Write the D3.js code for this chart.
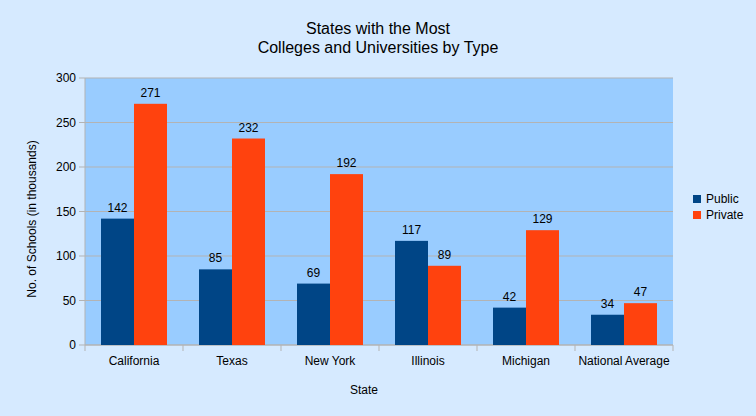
<!DOCTYPE html>
<html><head><meta charset="utf-8">
<script src="https://cdn.jsdelivr.net/npm/d3@7"></script>
<style>body{margin:0;background:#d6eaff;}svg{display:block;font-family:"Liberation Sans",Arial,sans-serif;}</style>
</head><body><svg id="c" width="756" height="416"></svg>
<script>
const categories = ["California","Texas","New York","Illinois","Michigan","National Average"];
const seriesNames = ["Public","Private"];
const publicValues = [142,85,69,117,42,34];
const privateValues = [271,232,192,89,129,47];
const yTicks = [0,50,100,150,200,250,300];
const colors = ["#004586","#ff420e"];

const svg = d3.select("#c");
svg.append("rect").attr("width",756).attr("height",416).attr("fill","#d6eaff");
const L=85,R=673,T=78,B=345;
const x = d3.scaleBand().domain(categories).range([L,R]);
const xs = d3.scaleBand().domain(seriesNames).range([0,x.bandwidth()]).paddingOuter(0.485).paddingInner(0);
const y = d3.scaleLinear().domain([0,300]).range([B,T]);

svg.append("rect").attr("x",L).attr("y",T).attr("width",R-L).attr("height",B-T).attr("fill","#99ccff");
svg.append("g").selectAll("line").data(yTicks).join("line")
  .attr("x1",L-6).attr("x2",R).attr("y1",d=>y(d)).attr("y2",d=>y(d)).attr("stroke","#b3b3b3");
svg.append("line").attr("x1",L).attr("x2",L).attr("y1",T).attr("y2",B).attr("stroke","#b3b3b3");
const xb = categories.map(c=>x(c)).concat([R]);
svg.append("g").selectAll("line").data(xb).join("line")
  .attr("x1",d=>d).attr("x2",d=>d).attr("y1",B).attr("y2",B+6).attr("stroke","#b3b3b3");
svg.append("line").attr("x1",L).attr("x2",R).attr("y1",B).attr("y2",B).attr("stroke","#b3b3b3");

svg.append("g").selectAll("text").data(yTicks).join("text")
  .attr("x",L-9).attr("y",d=>y(d)).attr("dy","0.35em").attr("text-anchor","end")
  .attr("font-size",12).attr("fill","#000").text(d=>d);
svg.append("g").selectAll("text").data(categories).join("text")
  .attr("x",d=>x(d)+x.bandwidth()/2).attr("y",B+20).attr("text-anchor","middle")
  .attr("font-size",12).attr("fill","#000").text(d=>d);

const series=[publicValues,privateValues];
series.forEach((vals,si)=>{
  const g=svg.append("g");
  g.selectAll("rect").data(vals).join("rect")
    .attr("x",(d,i)=>x(categories[i])+xs(seriesNames[si]))
    .attr("y",d=>y(d)).attr("width",xs.bandwidth()).attr("height",d=>B-y(d))
    .attr("fill",colors[si]);
  g.selectAll("text").data(vals).join("text")
    .attr("x",(d,i)=>x(categories[i])+xs(seriesNames[si])+xs.bandwidth()/2)
    .attr("y",d=>y(d)-7).attr("text-anchor","middle").attr("font-size",12).attr("fill","#000").text(d=>d);
});

svg.append("text").attr("x",378).attr("y",34).attr("text-anchor","middle").attr("font-size",16).text("States with the Most");
svg.append("text").attr("x",378).attr("y",53).attr("text-anchor","middle").attr("font-size",16).text("Colleges and Universities by Type");
svg.append("text").attr("x",364).attr("y",394).attr("text-anchor","middle").attr("font-size",12).text("State");
svg.append("text").attr("transform","translate(36,219) rotate(-90)").attr("text-anchor","middle").attr("font-size",12).text("No. of Schools (in thousands)");

const lg=svg.append("g");
seriesNames.forEach((s,i)=>{
  lg.append("rect").attr("x",693).attr("y",195+i*16).attr("width",8).attr("height",8).attr("fill",colors[i]);
  lg.append("text").attr("x",706).attr("y",199+i*16).attr("dy","0.35em").attr("font-size",12).text(s);
});
</script></body></html>
